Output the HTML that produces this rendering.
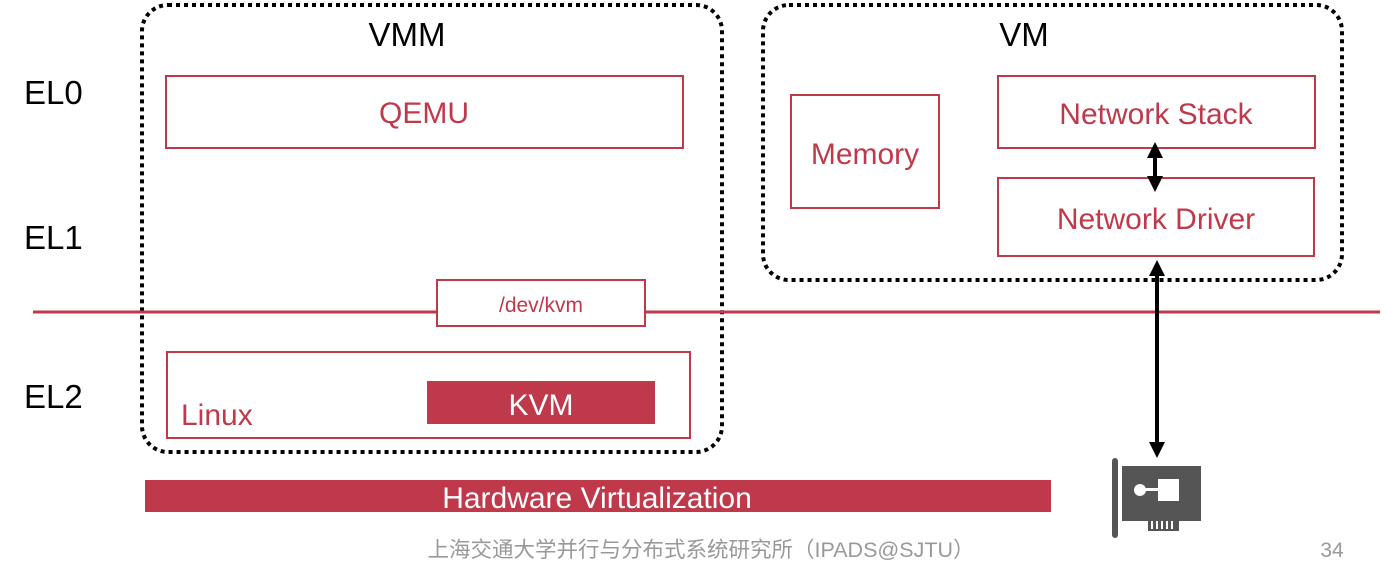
<!DOCTYPE html>
<html><head><meta charset="utf-8"><style>
body{margin:0;background:#fff;}
svg{display:block;font-family:"Liberation Sans","Noto Sans CJK SC",sans-serif;}
</style></head><body>
<svg width="1384" height="578" viewBox="0 0 1384 578">
<defs>
<marker id="ah" markerWidth="16" markerHeight="16" refX="8" refY="8" orient="auto-start-reverse" markerUnits="userSpaceOnUse"><path d="M0,0 L16,8 L0,16 z" fill="#000"/></marker>
</defs>
<g fill="none" stroke="#000" stroke-width="4" stroke-dasharray="4 4">
<rect x="142" y="5" width="580" height="447" rx="26"/>
<rect x="763" y="5" width="579" height="275" rx="26"/>
</g>
<line x1="33" y1="312" x2="1380" y2="312" stroke="#c0394b" stroke-width="3"/>
<g fill="#fff" stroke="#c0394b" stroke-width="2">
<rect x="166" y="76" width="517" height="72"/>
<rect x="791" y="95" width="148" height="113"/>
<rect x="998" y="76" width="317" height="72"/>
<rect x="998" y="178" width="316" height="78"/>
<rect x="437" y="280" width="208" height="46"/>
<rect x="167" y="352" width="523" height="86"/>
</g>
<rect x="427" y="381" width="228" height="43" fill="#c0394b"/>
<rect x="145" y="480" width="906" height="32" fill="#c0394b"/>
<g font-size="33" fill="#000">
<text x="24" y="104">EL0</text>
<text x="24" y="249">EL1</text>
<text x="24" y="408">EL2</text>
<text x="407" y="46" text-anchor="middle">VMM</text>
<text x="1024" y="46" text-anchor="middle">VM</text>
</g>
<g font-size="30" fill="#c0394b">
<text x="424" y="123" text-anchor="middle">QEMU</text>
<text x="865" y="164" text-anchor="middle">Memory</text>
<text x="1156" y="124" text-anchor="middle">Network Stack</text>
<text x="1156" y="229" text-anchor="middle">Network Driver</text>
<text x="181" y="425">Linux</text>
<text x="541" y="312" font-size="21" text-anchor="middle">/dev/kvm</text>
</g>
<text x="541" y="415" font-size="30" fill="#fff" text-anchor="middle">KVM</text>
<text x="597" y="508" font-size="30" fill="#fff" text-anchor="middle">Hardware Virtualization</text>
<g stroke="#000" stroke-width="4" marker-start="url(#ah)" marker-end="url(#ah)">
<line x1="1155" y1="150" x2="1155" y2="184"/>
<line x1="1157" y1="268" x2="1157" y2="450"/>
</g>
<g fill="#555">
<rect x="1112" y="458" width="6" height="80" rx="3"/>
<rect x="1122" y="466" width="79" height="55"/>
<rect x="1148" y="518" width="31" height="13"/>
</g>
<g fill="#fff">
<circle cx="1140" cy="490" r="6"/>
<rect x="1140" y="488" width="20" height="3"/>
<rect x="1158" y="479" width="21" height="22"/>
<rect x="1151" y="521" width="2" height="8"/><rect x="1156" y="521" width="2" height="8"/><rect x="1161" y="521" width="2" height="8"/><rect x="1166" y="521" width="2" height="8"/><rect x="1171" y="521" width="2" height="8"/>
</g>
<text x="701" y="557" font-size="21.5" fill="#999" text-anchor="middle">上海交通大学并行与分布式系统研究所（IPADS@SJTU）</text>
<text x="1332" y="557" font-size="21" fill="#999" text-anchor="middle">34</text>
</svg>
</body></html>
